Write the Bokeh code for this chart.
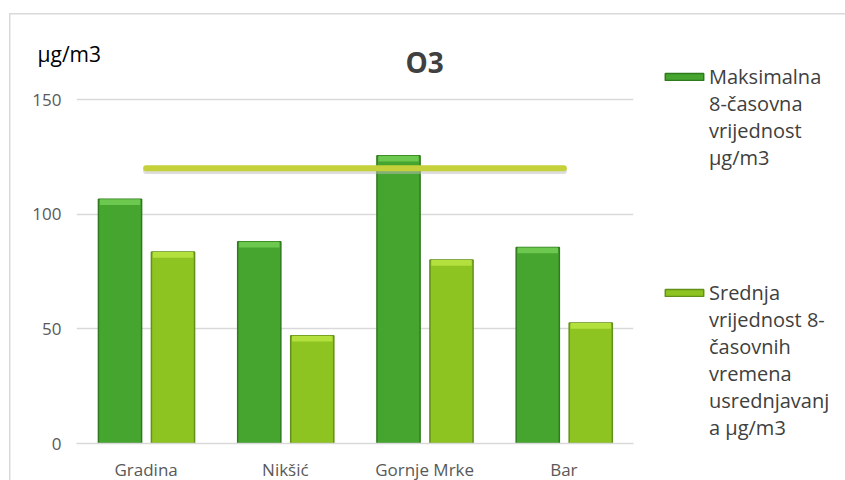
from bokeh.plotting import figure
from bokeh.models import FactorRange, Range1d, Legend, LegendItem, Label, FixedTicker
from bokeh.transform import dodge
from bokeh.embed import file_html
from bokeh.resources import INLINE
from bokeh.models import ColumnDataSource

categories = ["Gradina", "Nikšić", "Gornje Mrke", "Bar"]
max_8h = [106.5, 88, 125.5, 85.5]
mean_8h = [83.5, 47, 80, 52.5]
limit_value = 120
y_ticks = [0, 50, 100, 150]

series1_lines = ["Maksimalna", "8-časovna", "vrijednost", "µg/m3"]
series2_lines = ["Srednja", "vrijednost 8-", "časovnih", "vremena", "usrednjavanj", "a µg/m3"]

FONT = "Open Sans"

src = ColumnDataSource(dict(cat=categories, max8=max_8h, mean8=mean_8h,
                            max8_b=[v - 2.5 for v in max_8h], mean8_b=[v - 2.5 for v in mean_8h]))

p = figure(width=845, height=480, x_range=FactorRange(*categories),
           y_range=Range1d(0, 175.73), output_backend="svg", toolbar_location=None,
           min_border_left=76, min_border_right=212, min_border_top=40, min_border_bottom=37)
p.frame_width = 557
p.frame_height = 403
p.outline_line_color = None
p.background_fill_color = "white"
p.border_fill_color = "white"
p.border_fill_alpha = 0
p.styles = {
    "background": "linear-gradient(#d9d9d9, #d9d9d9) 9px 13px / 1.5px 900px no-repeat, "
                  "linear-gradient(#d9d9d9, #d9d9d9) 9px 13px / 900px 1.5px no-repeat, white"
}

dark = p.vbar(x=dodge("cat", -0.1875, range=p.x_range), top="max8", width=0.31, source=src,
              fill_color="#46a52f", line_color="#2f7a1c", line_width=1.5)
light = p.vbar(x=dodge("cat", 0.193, range=p.x_range), top="mean8", width=0.31, source=src,
               fill_color="#8dc421", line_color="#62901a", line_width=1.5)
p.vbar(x=dodge("cat", -0.1875, range=p.x_range), top="max8", bottom="max8_b", width=0.29,
       source=src, fill_color="#6cc84f", line_color=None)
p.vbar(x=dodge("cat", 0.193, range=p.x_range), top="mean8", bottom="mean8_b", width=0.29,
       source=src, fill_color="#b3e03d", line_color=None)

p.line(x=[categories[0], categories[-1]], y=[limit_value - 1.2, limit_value - 1.2],
       line_color="#bbbbbb", line_width=6, line_alpha=0.5, line_cap="round")
p.line(x=[categories[0], categories[-1]], y=[limit_value, limit_value],
       line_color="#c4d13a", line_width=6, line_cap="round")

p.yaxis.ticker = FixedTicker(ticks=y_ticks)
p.yaxis.axis_line_color = None
p.yaxis.major_tick_line_color = None
p.yaxis.minor_tick_line_color = None
p.yaxis.major_label_text_font = FONT
p.yaxis.major_label_text_font_size = "17px"
p.yaxis.major_label_text_color = "#595959"
p.yaxis.major_label_standoff = 9

p.xaxis.axis_line_color = "#d9d9d9"
p.xaxis.axis_line_width = 1.5
p.xaxis.major_tick_line_color = None
p.xaxis.minor_tick_line_color = None
p.xaxis.major_label_text_font = FONT
p.xaxis.major_label_text_font_size = "17px"
p.xaxis.major_label_text_color = "#595959"
p.xaxis.major_label_standoff = 8
p.xgrid.grid_line_color = None
p.ygrid.grid_line_color = "#d9d9d9"
p.ygrid.grid_line_width = 1.5

p.add_layout(Label(x=2.5, y=166.2, text="O3", text_font=FONT, text_font_size="28px",
                   text_font_style="bold", text_color="#404040", text_align="center",
                   text_baseline="middle"))
p.add_layout(Label(x=-39, y=-13, x_units="screen", y_units="screen", text="µg/m3",
                   text_font=FONT, text_font_size="21px",
                   text_color="#000000", text_align="left", text_baseline="middle"), "above")

blank = p.vbar(x=[], top=[], width=0.3, fill_alpha=0, line_alpha=0)
items = [LegendItem(label=series1_lines[0], renderers=[dark])]
items += [LegendItem(label=t, renderers=[blank]) for t in series1_lines[1:]]
items += [LegendItem(label=" " * (k + 1), renderers=[blank]) for k in range(4)]
items += [LegendItem(label=series2_lines[0], renderers=[light])]
items += [LegendItem(label=t, renderers=[blank]) for t in series2_lines[1:]]

legend = Legend(items=items, location=(27, 2), orientation="vertical",
                label_text_font=FONT, label_text_font_size="20px", label_text_color="#404040",
                label_height=27, label_text_line_height=1.2,
                glyph_width=48, glyph_height=9, spacing=0, padding=0, margin=0,
                border_line_color=None, background_fill_alpha=0, label_standoff=1)
p.add_layout(legend, "right")

open("out.html", "w").write(file_html(p, INLINE))
